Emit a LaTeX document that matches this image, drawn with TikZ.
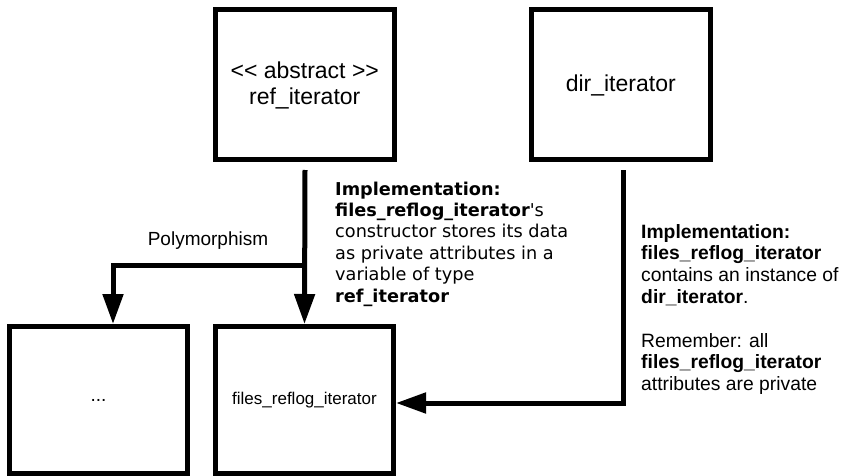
\documentclass[tikz,border=0pt]{standalone}
\usepackage{fontspec}
\setmainfont{Liberation Sans}[Ligatures=NoCommon]
\newfontfamily\dejavu{DejaVu Sans}
\usetikzlibrary{arrows.meta}

\begin{document}
\begin{tikzpicture}[x=1pt,y=-1pt,
  classbox/.style={draw, line width=5pt, rectangle, inner sep=0pt, align=center},
  link/.style={line width=5pt, -{Triangle[width=20pt,length=30pt]}},
  note/.style={inner sep=0pt, align=left, anchor=north west}]
  \useasboundingbox (0,0) rectangle (846,476);

  % class boxes
  \node[classbox, minimum width=178.5pt, minimum height=150pt,
        font=\fontsize{23}{26}\selectfont] (ref) at (304.75,85)
        {\textless{}\textless{} abstract \textgreater{}\textgreater\\ref\_iterator};
  \node[classbox, minimum width=178.5pt, minimum height=150pt,
        font=\fontsize{23}{26}\selectfont] (dir) at (620.75,85)
        {dir\_iterator};
  \node[classbox, minimum width=178pt, minimum height=147pt,
        font=\fontsize{19}{22}\selectfont] (other) at (98.5,400) {...};
  \node[classbox, minimum width=178pt, minimum height=147pt,
        font=\fontsize{17}{20}\selectfont] (files) at (304.5,400)
        {files\_reflog\_iterator};

  % connector start points and the branch point
  \coordinate (reftop) at (305,170);
  \coordinate (branch) at (305,265);
  \coordinate (dirtop) at (623,170);

  % ref_iterator -> files_reflog_iterator, with a branch to the other subclass
  \draw[link] (reftop) -- (files.north);
  \draw[link] (branch) -| ([xshift=14.5pt]other.north);
  \draw[link] (dirtop) |- ([yshift=-3pt]files.east);

  % labels
  \node[font=\fontsize{19}{22}\selectfont] (poly) at (208,241) {Polymorphism};

  \node[note, font=\dejavu\fontsize{17.7}{21.4}\selectfont] (implref) at (335,181.5)
    {\textbf{Implementation:}\\
     \textbf{files\_reflog\_iterator}'s\\
     constructor stores its data\\
     as private attributes in a\\
     variable of type\\
     \textbf{ref\_iterator}};

  \node[note, font=\fontsize{19.3}{21.8}\selectfont] (impldir) at (641,224)
    {\textbf{Implementation:}\\
     \textbf{files\_reflog\_iterator}\\
     contains an instance of\\
     \textbf{dir\_iterator}.\\[21.8pt]
     Remember: all\\
     \textbf{files\_reflog\_iterator}\\
     attributes are private};
\end{tikzpicture}
\end{document}
